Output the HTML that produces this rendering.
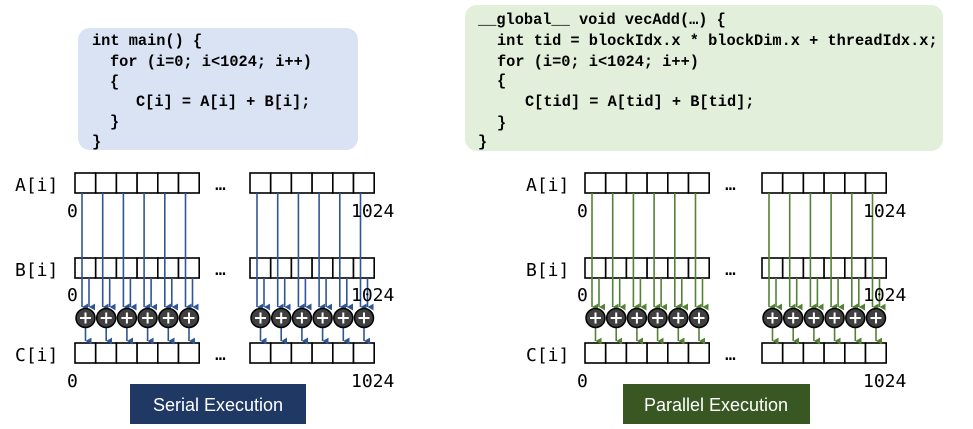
<!DOCTYPE html>
<html><head><meta charset="utf-8"><style>
html,body{margin:0;padding:0;background:#fff;width:973px;height:429px;overflow:hidden}
svg text{font-family:"DejaVu Sans Mono","Liberation Mono",monospace}
.code{font-family:"Liberation Mono",monospace;font-weight:bold;font-size:15.3px;fill:#000}
.lab{font-size:18px;fill:#000}
.btn{font-family:"Liberation Sans",sans-serif;font-size:18px;fill:#fff}
</style></head><body>
<svg id="s" width="973" height="429" xmlns="http://www.w3.org/2000/svg">
<defs>
<marker id="ab" markerWidth="8" markerHeight="8" refX="4" refY="6" orient="auto" markerUnits="userSpaceOnUse"><path d="M0,0 L8,0 L4,7 z" transform="translate(0,-1)" fill="#2f5597"/></marker>
<marker id="ag" markerWidth="8" markerHeight="8" refX="4" refY="6" orient="auto" markerUnits="userSpaceOnUse"><path d="M0,0 L8,0 L4,7 z" transform="translate(0,-1)" fill="#548235"/></marker>
</defs>
<rect x="78" y="28" width="280" height="122" rx="12" fill="#dae3f3"/>
<rect x="465" y="5" width="478" height="146" rx="12" fill="#e2efda"/>
<text class="code" x="92" y="45">int main() {</text>
<text class="code" x="110" y="66">for (i=0; i&lt;1024; i++)</text>
<text class="code" x="110" y="86">{</text>
<text class="code" x="136" y="106">C[i] = A[i] + B[i];</text>
<text class="code" x="110" y="126">}</text>
<text class="code" x="92" y="146">}</text>
<text class="code" x="478" y="24">__global__ void vecAdd(…) {</text>
<text class="code" x="497" y="45">int tid = blockIdx.x * blockDim.x + threadIdx.x;</text>
<text class="code" x="497" y="66">for (i=0; i&lt;1024; i++)</text>
<text class="code" x="497" y="85">{</text>
<text class="code" x="525" y="106">C[tid] = A[tid] + B[tid];</text>
<text class="code" x="497" y="127">}</text>
<text class="code" x="478" y="146">}</text>
<rect x="130" y="384" width="176" height="40" fill="#203864"/>
<text class="btn" x="218" y="411" text-anchor="middle">Serial Execution</text>
<rect x="623" y="384" width="187" height="40" fill="#385723"/>
<text class="btn" x="716" y="411" text-anchor="middle">Parallel Execution</text>
</svg>
<script>
var s=document.getElementById('s'),NS='http://www.w3.org/2000/svg';
function el(t,a,txt){var e=document.createElementNS(NS,t);for(var k in a)e.setAttribute(k,a[k]);if(txt)e.textContent=txt;s.appendChild(e);return e;}
var cw=20.7,rows=[173,258,343],rh=20;
function panel(lx,g1,g2,col,mk){
 ['A[i]','B[i]','C[i]'].forEach(function(l,i){el('text',{class:'lab',x:lx,y:rows[i]+18},l);});
 [g1,g2].forEach(function(gx,gi){
  for(var r=0;r<3;r++){for(var c=0;c<6;c++)el('rect',{x:gx+c*cw,y:rows[r],width:cw,height:rh,fill:'#fff',stroke:'#000','stroke-width':1.6});}
  for(var c=0;c<6;c++){
   var x=gx+c*cw;
   el('line',{x1:x+7,y1:rows[0]+rh,x2:x+7,y2:307,stroke:col,'stroke-width':1.6,'marker-end':'url(#'+mk+')'});
   el('line',{x1:x+14,y1:rows[1]+rh,x2:x+14,y2:307,stroke:col,'stroke-width':1.6,'marker-end':'url(#'+mk+')'});
   el('line',{x1:x+10.5,y1:327,x2:x+10.5,y2:341,stroke:col,'stroke-width':1.6,'marker-end':'url(#'+mk+')'});
   el('circle',{cx:x+10.5,cy:318,r:9.5,fill:'#404040',stroke:'#000','stroke-width':1.5});
   el('path',{d:'M'+(x+5)+',318 h11 M'+(x+10.5)+',312.5 v11',stroke:'#fff','stroke-width':2});
  }
  if(gi==0){for(var r=0;r<3;r++){el('text',{class:'lab',x:gx+140,y:rows[r]+17},'…');}}
 });
 [210,294,380].forEach(function(y){el('text',{class:'lab',x:g1-8,y:y+7},'0');});
 [210,294,380].forEach(function(y){el('text',{class:'lab',x:g2+101,y:y+7},'1024');});
}
panel(15,75,250,'#2f5597','ab');
panel(526,585,762,'#548235','ag');
</script>
</body></html>
